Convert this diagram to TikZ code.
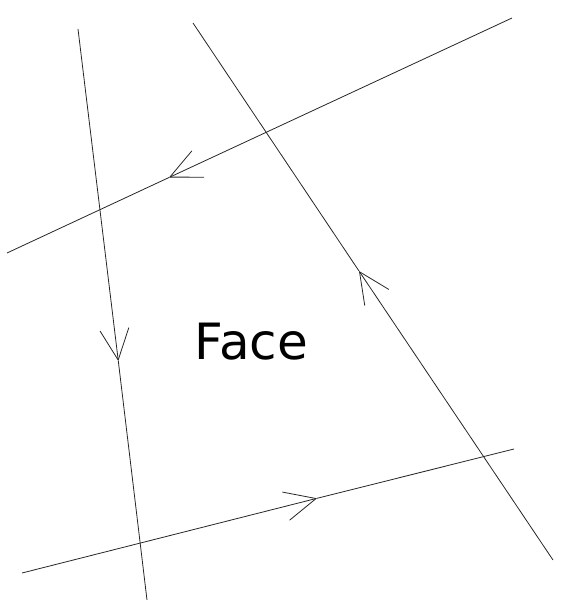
\documentclass[tikz,border=0pt]{standalone}
\usepackage{fontspec}
\setmainfont{DejaVu Sans}
\usepackage{tikz}
\usetikzlibrary{arrows.meta}

\begin{document}
\begin{tikzpicture}[x=1pt,y=-1pt,
    halfedge/.style={line width=0.8pt, black!85},
    barb/.style={-{Straight Barb[length=31pt,width=29pt]}}]

    \useasboundingbox (0,0) rectangle (571,600);

    % end points of the four lines
    \coordinate (lefta) at (78,29);
    \coordinate (leftb) at (147,600);
    \coordinate (topa) at (512,18);
    \coordinate (topb) at (7,253);
    \coordinate (diaga) at (553,560);
    \coordinate (diagb) at (193,23);
    \coordinate (bota) at (22,573);
    \coordinate (botb) at (514,449);

    % arrow tips
    \coordinate (lefttip) at (118.3,361);
    \coordinate (toptip) at (169,177.5);
    \coordinate (diagtip) at (359,271);
    \coordinate (bottip) at (317,498.3);

    \node[anchor = base,
          font = \fontsize{50}{60}\selectfont
          ] (face) at (251.5,359.3) {Face};

    %left line
    \draw[halfedge,barb] (lefta) -- (lefttip);
    \draw[halfedge] (lefttip) -- (leftb);
    %top line
    \draw[halfedge,barb] (topa) -- (toptip);
    \draw[halfedge] (toptip) -- (topb);
    %diagonal line
    \draw[halfedge,barb] (diaga) -- (diagtip);
    \draw[halfedge] (diagtip) -- (diagb);
    %bottom line
    \draw[halfedge,barb] (bota) -- (bottip);
    \draw[halfedge] (bottip) -- (botb);

\end{tikzpicture}
\end{document}
